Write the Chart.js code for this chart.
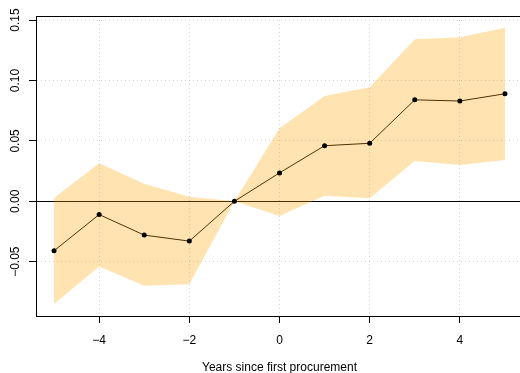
<!DOCTYPE html>
<html>
<head>
<meta charset="utf-8">
<script src="https://cdn.jsdelivr.net/npm/chart.js@4/dist/chart.umd.min.js"></script>
<style>
  html, body { margin: 0; padding: 0; background: #fff; overflow: hidden; }
  #wrap { width: 530px; height: 373px; position: relative; }
</style>
</head>
<body>
<div id="wrap"><canvas id="c"></canvas></div>
<script>
const years    = [-5, -4, -3, -2, -1, 0, 1, 2, 3, 4, 5];
const estimate = [-0.041, -0.011, -0.028, -0.033, 0, 0.0235, 0.046, 0.048, 0.084, 0.083, 0.089];
const upper    = [0.0027, 0.0314, 0.0145, 0.0037, 0, 0.0605, 0.0872, 0.0944, 0.1341, 0.1358, 0.1437];
const lower    = [-0.085, -0.0541, -0.0699, -0.0687, 0, -0.0122, 0.0046, 0.0025, 0.0334, 0.030, 0.0342];
const xTicks   = [-4, -2, 0, 2, 4];
const yTicks   = [-0.05, 0, 0.05, 0.10, 0.15];
const xTitle   = 'Years since first procurement';

const pts = arr => years.map((x, i) => ({x: x, y: arr[i]}));
const fmtY = v => (v < 0 ? '\u2212' : '') + Math.abs(v).toFixed(2);
const fmtX = v => (v < 0 ? '\u2212' : '') + Math.abs(v);
const FONT = {family: '"Liberation Sans", Arial, Helvetica, sans-serif', size: 12};

new Chart(document.getElementById('c'), {
  type: 'line',
  data: {
    datasets: [
      { data: pts(estimate), borderColor: '#000', borderWidth: 1, pointRadius: 0, fill: false, order: 3 },
      { data: pts(lower), borderWidth: 0, borderColor: 'rgba(0,0,0,0)', pointRadius: 0, fill: false, order: 2 },
      { data: pts(upper), borderWidth: 0, borderColor: 'rgba(0,0,0,0)', pointRadius: 0, fill: '-1',
        backgroundColor: 'rgba(255,165,0,0.3)', order: 1 },
      { data: pts(estimate), showLine: false, pointRadius: 2.5, pointBackgroundColor: '#000',
        pointBorderWidth: 0, borderColor: '#000', fill: false, order: 0 }
    ]
  },
  options: {
    responsive: true,
    maintainAspectRatio: false,
    animation: false,
    events: [],
    layout: { padding: { top: 16, right: 7, bottom: 0, left: 0 } },
    plugins: { legend: { display: false }, tooltip: { enabled: false } },
    elements: { line: { tension: 0 } },
    scales: {
      x: {
        type: 'linear', position: 'bottom', min: -5.4, max: 5.4,
        afterBuildTicks: s => { s.ticks = xTicks.map(v => ({value: v})); },
        afterFit: s => { s.height = 57; },
        ticks: { callback: v => fmtX(v), color: '#000', font: FONT, padding: 10, maxRotation: 0, autoSkip: false },
        grid: { color: '#d3d3d3', lineWidth: 1, tickLength: 7, tickColor: '#000', drawTicks: true },
        border: { display: true, color: '#000', width: 1, dash: [1, 3] },
        title: { display: true, text: xTitle, color: '#000', font: FONT, padding: {top: 0, bottom: -2} }
      },
      x2: {
        type: 'linear', position: 'top', min: -5.4, max: 5.4,
        afterFit: s => { s.height = 0; },
        ticks: { display: false },
        grid: { display: false, drawTicks: false },
        border: { display: true, color: '#000', width: 1 }
      },
      y: {
        type: 'linear', position: 'left', min: -0.095, max: 0.1534,
        afterBuildTicks: s => { s.ticks = yTicks.map(v => ({value: v})); },
        afterFit: s => { s.width = 36; },
        ticks: { callback: v => fmtY(v), color: '#000', font: FONT, padding: -2,
                 minRotation: 90, maxRotation: 90, crossAlign: 'center', autoSkip: false },
        grid: {
          color: c => (c.tick && Math.abs(c.tick.value) < 1e-9) ? '#000' : '#d3d3d3',
          lineWidth: 1, tickLength: 7, tickColor: '#000', drawTicks: true
        },
        border: {
          display: true, color: '#000', width: 1,
          dash: c => (c.tick && Math.abs(c.tick.value) < 1e-9) ? [] : [1, 3]
        }
      }
    }
  }
});
</script>
</body>
</html>
